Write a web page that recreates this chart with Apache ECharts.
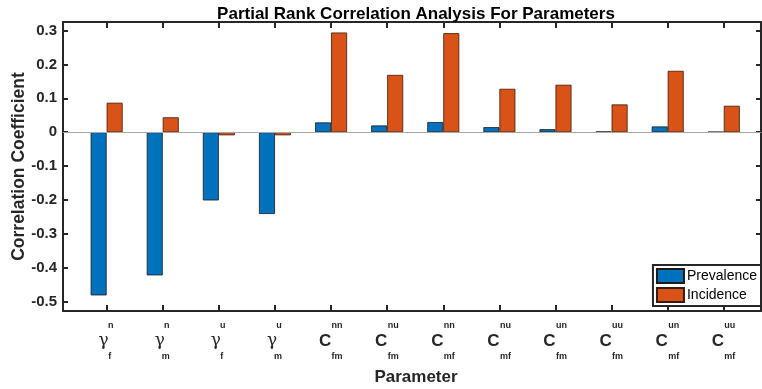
<!DOCTYPE html>
<html>
<head>
<meta charset="utf-8">
<script src="https://cdn.jsdelivr.net/npm/echarts@6/dist/echarts.min.js"></script>
<style>
  html, body { margin: 0; padding: 0; background: #fff; }
  #chart { width: 762px; height: 389px; }
</style>
</head>
<body>
<div id="chart"></div>
<script>
// Parameter symbols: base letter, superscript and subscript
const paramBase = ['γ', 'γ', 'γ', 'γ', 'C', 'C', 'C', 'C', 'C', 'C', 'C', 'C'];
const paramSup  = ['n', 'n', 'u', 'u', 'nn', 'nu', 'nn', 'nu', 'un', 'uu', 'un', 'uu'];
const paramSub  = ['f', 'm', 'f', 'm', 'fm', 'fm', 'mf', 'mf', 'fm', 'fm', 'mf', 'mf'];

// Partial rank correlation coefficients
const prevalence = [-0.481, -0.422, -0.201, -0.241, 0.029, 0.020, 0.030, 0.015, 0.009, 0.002, 0.017, 0.001];
const incidence  = [0.087, 0.044, -0.009, -0.009, 0.294, 0.169, 0.292, 0.128, 0.140, 0.082, 0.181, 0.078];

const seriesNames = ['Prevalence', 'Incidence'];
const yTickValues = [-0.5, -0.4, -0.3, -0.2, -0.1, 0, 0.1, 0.2, 0.3];

const FONT = '"Liberation Sans", Arial, Helvetica, sans-serif';
const INK = '#262626';
const X_MIN = 0.222, X_MAX = 12.663;
const Y_MIN = -0.527, Y_MAX = 0.325;

const chart = echarts.init(document.getElementById('chart'), null, { renderer: 'canvas' });

function xLabel(v) {
  const i = Math.round(v);
  if (Math.abs(v - i) > 1e-6 || i < 1 || i > paramBase.length) return '';
  const k = i - 1;
  const t = paramBase[k] === 'γ' ? 'G' : 'C';
  return '{sup' + t + '|' + paramSup[k] + '}\n{main' + t + '|' + paramBase[k] + '}\n{sub' + t + '|' + paramSub[k] + '}';
}

function yLabel(v) {
  for (const t of yTickValues) {
    if (Math.abs(v - t) < 1e-6) return t === 0 ? '0' : String(t);
  }
  return '';
}

const small = { fontFamily: FONT, fontSize: 9, fontWeight: 'bold', color: INK, lineHeight: 15 };

const tickStyle = { show: true, inside: true, length: 6, lineStyle: { color: INK, width: 2 } };
const lineStyle = { show: true, onZero: false, lineStyle: { color: INK, width: 2 } };

const baseX = {
  type: 'value', min: X_MIN, max: X_MAX, minInterval: 1, maxInterval: 1,
  splitLine: { show: false }, axisLine: lineStyle, axisTick: tickStyle
};
const baseY = {
  type: 'value', min: Y_MIN, max: Y_MAX, minInterval: 0.1, maxInterval: 0.1,
  splitLine: { show: false }, axisLine: lineStyle,
  axisTick: Object.assign({}, tickStyle, { length: 5 })
};

chart.setOption({
  animation: false,
  backgroundColor: '#ffffff',
  title: {
    text: 'Partial Rank Correlation Analysis For Parameters',
    left: 411, top: 1, textAlign: 'center',
    textStyle: { fontFamily: FONT, fontSize: 17, fontWeight: 'bold', color: '#000' }
  },
  grid: { left: 63, right: 1, top: 22, bottom: 78, containLabel: false, outerBoundsMode: 'none' },
  legend: {
    data: seriesNames,
    orient: 'vertical',
    right: 1, bottom: 83,
    itemWidth: 27, itemHeight: 14, itemGap: 3,
    padding: [3, 4, 3, 3],
    borderColor: INK, borderWidth: 2,
    backgroundColor: '#fff',
    textStyle: { fontFamily: FONT, fontSize: 14, color: '#000', padding: [0, 0, 0, -2] },
    icon: 'rect'
  },
  xAxis: [
    Object.assign({}, baseX, {
      position: 'bottom',
      name: 'Parameter', nameLocation: 'middle', nameGap: 58, nameMoveOverlap: false,
      nameTextStyle: { fontFamily: FONT, fontSize: 17, fontWeight: 'bold', color: INK, padding: [0, 0, 0, 8] },
      axisLabel: {
        show: true, margin: 7, formatter: xLabel, showMinLabel: false, showMaxLabel: false,
        rich: {
          supG: Object.assign({}, small, { padding: [0, 0, 0, 8] }),
          subG: Object.assign({}, small, { padding: [0, 0, 0, 6] }),
          mainG: { fontFamily: '"DejaVu Serif", "Liberation Serif", serif', fontSize: 17, color: INK, lineHeight: 16, padding: [0, 6, 0, 0] },
          supC: Object.assign({}, small, { padding: [0, 0, 0, 12] }),
          subC: Object.assign({}, small, { padding: [0, 0, 0, 12] }),
          mainC: { fontFamily: FONT, fontSize: 17, fontWeight: 'bold', color: INK, lineHeight: 16, padding: [0, 12, 0, 0] }
        }
      }
    }),
    Object.assign({}, baseX, { position: 'top', axisLabel: { show: false } })
  ],
  yAxis: [
    Object.assign({}, baseY, {
      position: 'left',
      name: 'Correlation Coefficient', nameLocation: 'middle', nameGap: 35, nameRotate: 90,
      nameMoveOverlap: false,
      nameTextStyle: { fontFamily: FONT, fontSize: 17.5, fontWeight: 'bold', color: INK },
      axisLabel: {
        show: true, margin: 6, formatter: yLabel,
        fontFamily: FONT, fontSize: 15, fontWeight: 'bold', color: INK
      }
    }),
    Object.assign({}, baseY, { position: 'right', axisLabel: { show: false } })
  ],
  series: [
    {
      name: seriesNames[0], type: 'bar', xAxisIndex: 0, yAxisIndex: 0,
      data: prevalence.map((v, i) => [i + 1, v]),
      barWidth: 16, barGap: '0%',
      itemStyle: { color: '#0072BD', borderColor: '#1a1a1a', borderWidth: 0.8 },
      markLine: {
        silent: true, symbol: 'none', label: { show: false },
        lineStyle: { color: '#a8a8a8', width: 1.2, type: 'solid' },
        data: [{ yAxis: 0 }]
      },
      z: 2
    },
    {
      name: seriesNames[1], type: 'bar', xAxisIndex: 0, yAxisIndex: 0,
      data: incidence.map((v, i) => [i + 1, v]),
      barWidth: 16, barGap: '0%',
      itemStyle: { color: '#D95319', borderColor: '#3a1a0a', borderWidth: 0.8 },
      z: 2
    }
  ]
});
</script>
</body>
</html>
